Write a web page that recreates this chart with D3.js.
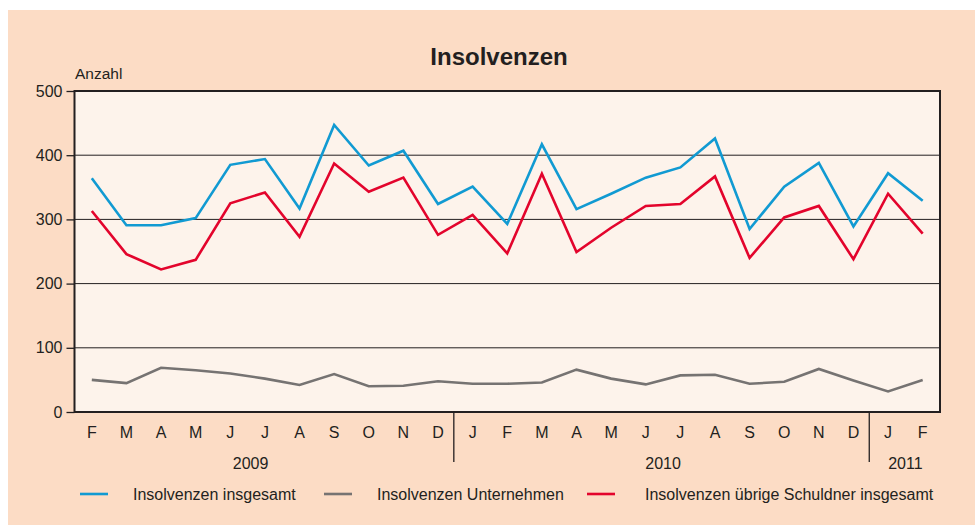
<!DOCTYPE html>
<html><head><meta charset="utf-8">
<script src="https://cdn.jsdelivr.net/npm/d3@7"></script>
<style>
html,body{margin:0;padding:0;background:#fff;}
svg{display:block;font-family:"Liberation Sans",Arial,sans-serif;}
</style></head>
<body>
<svg id="chart" width="975" height="525"></svg>
<script>
const months = ["F","M","A","M","J","J","A","S","O","N","D","J","F","M","A","M","J","J","A","S","O","N","D","J","F"];
const years = [
  {label:"2009", from:-1, to:10},
  {label:"2010", from:11, to:22},
  {label:"2011", from:23, to:24}
];
const separators = [11, 23];
const totalAll = [364,291,291,302,385,394,317,447,384,407,324,351,293,417,316,340,365,381,426,285,351,388,289,372,329];
const companies = [50,45,69,65,60,52,42,59,40,41,48,44,44,46,66,52,43,57,58,44,47,67,49,32,50];
const otherDebtors = [313,246,222,237,325,342,273,387,343,365,276,307,247,371,249,287,321,324,367,240,303,321,238,340,278];
const yTicks = [0,100,200,300,400,500];
const seriesNames = ["Insolvenzen insgesamt","Insolvenzen Unternehmen","Insolvenzen übrige Schuldner insgesamt"];
const seriesColors = ["#119ad2","#767372","#e3042c"];

(function(){
const svg = d3.select("#chart");
const W = 975, H = 525;
const pL = 74.5, pR = 940, pT = 91, pB = 412;

svg.append("rect").attr("x",8).attr("y",10).attr("width",W-8).attr("height",H-10).attr("fill","#fcdcc5");

const x = d3.scalePoint().domain(d3.range(months.length)).range([pL, pR]).padding(0.5);
const step = x.step();
const y = d3.scaleLinear().domain([0,500]).range([pB, pT]);

svg.append("rect").attr("x",pL).attr("y",pT).attr("width",pR-pL).attr("height",pB-pT).attr("fill","#fdf3eb");

// gridlines
svg.append("g").selectAll("line").data(yTicks.filter(d=>d>0 && d<500)).join("line")
  .attr("x1",pL).attr("x2",pR).attr("y1",d=>y(d)).attr("y2",d=>y(d))
  .attr("stroke","#231f20").attr("stroke-width",1);

// y axis
const yAxis = d3.axisLeft(y).tickValues(yTicks).tickSize(8).tickPadding(4);
const ya = svg.append("g").attr("transform",`translate(${pL},0)`).call(yAxis);
ya.select(".domain").remove();
ya.selectAll(".tick line").attr("stroke","#231f20").attr("stroke-width",1.3);
ya.selectAll(".tick text").attr("font-size",16).attr("fill","#231f20").attr("font-family","Liberation Sans, Arial, sans-serif");

// plot frame
svg.append("rect").attr("x",pL).attr("y",pT).attr("width",pR-pL).attr("height",pB-pT)
  .attr("fill","none").attr("stroke","#231f20").attr("stroke-width",2);

// x labels
svg.append("g").selectAll("text").data(months).join("text")
  .attr("x",(d,i)=>x(i)).attr("y",438).attr("text-anchor","middle")
  .attr("font-size",16).attr("fill","#231f20").text(d=>d);

// separators
svg.append("g").selectAll("line").data(separators).join("line")
  .attr("x1",d=>x(d)-step/2-1.5).attr("x2",d=>x(d)-step/2-1.5).attr("y1",pB).attr("y2",462)
  .attr("stroke","#231f20").attr("stroke-width",1.3);

// years
svg.append("g").selectAll("text").data(years).join("text")
  .attr("x",d=>{
    const a = d.from<0 ? x(0)-step : x(d.from);
    return (a + x(d.to))/2 + (d.from<0?3:0);
  })
  .attr("y",469).attr("text-anchor","middle")
  .attr("font-size",16).attr("fill","#231f20").text(d=>d.label);

// lines
const line = d3.line().x((d,i)=>x(i)).y(d=>y(d));
[totalAll, companies, otherDebtors].forEach((s,k)=>{
  svg.append("path").datum(s).attr("d",line).attr("fill","none")
    .attr("stroke",seriesColors[k]).attr("stroke-width",2.6).attr("stroke-linejoin","miter");
});

// title
svg.append("text").attr("x",499).attr("y",65).attr("text-anchor","middle")
  .attr("font-size",24).attr("font-weight","bold").attr("fill","#231f20").text("Insolvenzen");
svg.append("text").attr("x",75).attr("y",79).attr("font-size",15.5).attr("fill","#231f20").text("Anzahl");

// legend
const legendX = [[80,133],[324,377],[587,645]];
const lg = svg.append("g");
seriesNames.forEach((n,k)=>{
  lg.append("line").attr("x1",legendX[k][0]).attr("x2",legendX[k][0]+28).attr("y1",494).attr("y2",494)
    .attr("stroke",seriesColors[k]).attr("stroke-width",2.6);
  lg.append("text").attr("x",legendX[k][1]).attr("y",499.5).attr("font-size",16).attr("fill","#231f20").text(n);
});
})();
</script>
</body></html>
